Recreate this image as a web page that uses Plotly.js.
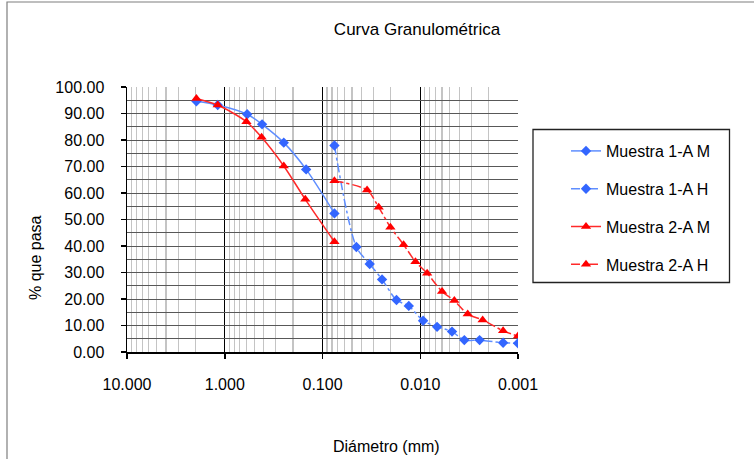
<!DOCTYPE html>
<html>
<head>
<meta charset="utf-8">
<script src="https://cdn.plot.ly/plotly-3.0.1.min.js"></script>
<style>html,body{margin:0;padding:0;background:#fff;}#chart{width:754px;height:459px;}</style>
</head>
<body>
<div id="chart"></div>
<script>
// Data (diameter in mm, % passing)
const names = ["Muestra 1-A M", "Muestra 1-A H", "Muestra 2-A M", "Muestra 2-A H"];

const m1M_x = [1.95, 1.18, 0.59, 0.415, 0.249, 0.147, 0.0755];
const m1M_y = [94.6, 93.2, 89.7, 85.9, 79.0, 68.9, 52.3];

const m1H_x = [0.0755, 0.045, 0.0329, 0.0246, 0.0175, 0.0131, 0.00935, 0.00673, 0.00473, 0.00354, 0.00247, 0.00142, 0.001];
const m1H_y = [77.9, 39.6, 33.2, 27.4, 19.6, 17.4, 11.8, 9.5, 7.7, 4.5, 4.5, 3.5, 3.3];

const m2M_x = [1.95, 1.18, 0.60, 0.42, 0.249, 0.150, 0.0755];
const m2M_y = [95.7, 93.2, 86.9, 81.0, 70.2, 57.6, 41.6];

const m2H_x = [0.0755, 0.035, 0.0266, 0.0202, 0.0148, 0.0112, 0.0085, 0.00598, 0.00448, 0.00327, 0.0023, 0.00142, 0.001];
const m2H_y = [64.6, 61.1, 54.6, 47.1, 40.5, 34.1, 29.7, 22.8, 19.4, 14.3, 12.1, 8.0, 6.0];

const xTickVals = [10, 1, 0.1, 0.01, 0.001];
const xTickText = ["10.000", "1.000", "0.100", "0.010", "0.001"];
const yLabelVals = [0, 10, 20, 30, 40, 50, 60, 70, 80, 90, 100];
const yGridVals = [0, 5, 10, 15, 20, 25, 30, 35, 40, 45, 50, 55, 60, 65, 70, 75, 80, 85, 90, 95, 100];
const yGridText = yGridVals.map(v => (v % 10 === 0 ? v.toFixed(2) : ""));

const FONT = "Liberation Sans, Arial, sans-serif";
const BLUE_L = "#5f8eff", BLUE_M = "#3366ff";
const RED_L = "#ff2a2a", RED_M = "#ff0000";

function tr(x, y, name, lc, mc, dash, sym, size, grp) {
  return {
    x: x, y: y, name: name, type: "scatter", mode: "lines+markers",
    line: {color: lc, width: 1.5, dash: dash, shape: "spline", smoothing: 0.8},
    marker: {color: mc, symbol: sym, size: size},
    legendgroup: grp
  };
}

const data = [
  tr(m1M_x, m1M_y, names[0], BLUE_L, BLUE_M, "solid", "diamond", 8, "a"),
  tr(m1H_x, m1H_y, names[1], BLUE_L, BLUE_M, "dashdot", "diamond", 8, "b"),
  tr(m2M_x, m2M_y, names[2], RED_L, RED_M, "solid", "triangle-up", 9, "c"),
  tr(m2H_x, m2H_y, names[3], RED_L, RED_M, "dashdot", "triangle-up", 9, "d")
];

const layout = {
  width: 754, height: 459,
  margin: {l: 127, r: 236, t: 87, b: 107, pad: 0},
  paper_bgcolor: "#ffffff", plot_bgcolor: "#ffffff",
  font: {family: FONT, size: 16, color: "#000"},
  title: {text: "Curva Granulométrica", x: 417/754, xanchor: "center", xref: "container",
          y: 1 - 29/459, yanchor: "middle", yref: "container",
          font: {family: FONT, size: 17, color: "#000"}},
  xaxis: {
    type: "log", range: [1, -3], autorange: false,
    tickvals: xTickVals, ticktext: xTickText,
    ticks: "outside", ticklen: 5, tickcolor: "#000", tickwidth: 1.5,
    ticklabelstandoff: 12,
    showgrid: true, gridcolor: "#000", gridwidth: 1.3,
    minor: {dtick: "D1", showgrid: true, gridcolor: "#c4c4c4", gridwidth: 1.2, ticks: ""},
    showline: true, linecolor: "#000", linewidth: 2,
    zeroline: false,
    tickfont: {family: FONT, size: 16, color: "#000"}
  },
  yaxis: {
    range: [0, 100], autorange: false,
    tickmode: "array", tickvals: yGridVals, ticktext: yGridText,
    ticks: "", ticklabelstandoff: 18,
    showgrid: true, gridcolor: "#585858", gridwidth: 1,
    minor: {tickmode: "array", tickvals: yLabelVals, ticks: "outside", ticklen: 5,
            tickcolor: "#000", tickwidth: 1.2, showgrid: false},
    showline: true, linecolor: "#000", linewidth: 1.5,
    zeroline: false,
    tickfont: {family: FONT, size: 16, color: "#000"}
  },
  showlegend: true,
  legend: {
    x: (566 - 127) / 391, xanchor: "left",
    y: (352 - 134) / 265, yanchor: "top",
    bgcolor: "rgba(0,0,0,0)", borderwidth: 0,
    traceorder: "grouped", tracegroupgap: 14,
    font: {family: FONT, size: 16, color: "#000"}
  },
  annotations: [
    {text: "Diámetro (mm)", xref: "paper", yref: "paper",
     x: (386 - 127) / 391, y: (352 - 446) / 265, xanchor: "center", yanchor: "middle",
     showarrow: false, font: {family: FONT, size: 16, color: "#000"}},
    {text: "% que pasa", xref: "paper", yref: "paper", textangle: -90,
     x: (35 - 127) / 391, y: (352 - 258) / 265, xanchor: "center", yanchor: "middle",
     showarrow: false, font: {family: FONT, size: 16, color: "#000"}}
  ],
  shapes: [
    {type: "rect", xref: "paper", yref: "paper", layer: "above",
     x0: (7 - 127) / 391, x1: (770 - 127) / 391, y0: (352 - 475) / 265, y1: (352 - 2) / 265,
     line: {color: "#7f7f7f", width: 1.2}, fillcolor: "rgba(0,0,0,0)"},
    {type: "rect", xref: "paper", yref: "paper", layer: "above",
     x0: (533 - 127) / 391, x1: (729.5 - 127) / 391, y0: (352 - 282.5) / 265, y1: (352 - 129.5) / 265,
     line: {color: "#222", width: 1.3}, fillcolor: "rgba(0,0,0,0)"}
  ]
};

Plotly.newPlot("chart", data, layout, {displayModeBar: false, staticPlot: true});
</script>
</body>
</html>
